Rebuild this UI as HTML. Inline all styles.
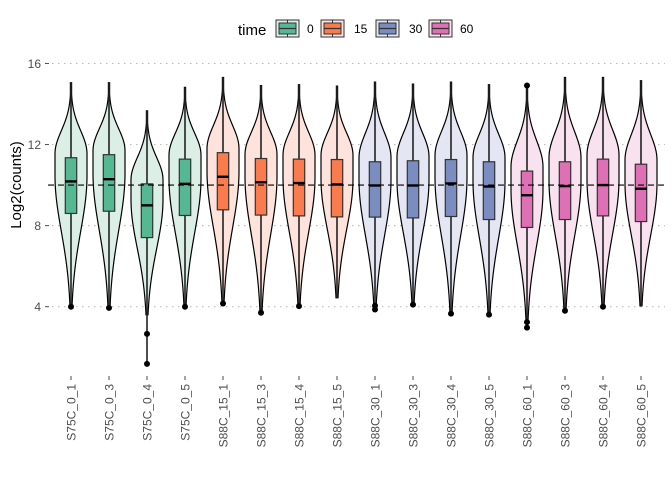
<!DOCTYPE html>
<html><head><meta charset="utf-8">
<style>
html,body{margin:0;padding:0;background:#fff;}
svg{display:block;font-family:"Liberation Sans",Arial,sans-serif;}
</style></head>
<body>
<svg id="chart" width="672" height="480" viewBox="0 0 672 480" xmlns="http://www.w3.org/2000/svg">
  <g id="grid"></g>
  <g id="yaxis"></g>
  <text x="0" y="0" transform="translate(21,185) rotate(-90)" text-anchor="middle" font-size="15" fill="#000">Log2(counts)</text>
  <g id="marks"></g>
  <line id="refline" stroke="#000" stroke-width="1.2" stroke-dasharray="6,4"></line>
  <g id="xaxis"></g>
  <g id="legend">
    <text x="238" y="35" font-size="15" fill="#000">time</text>
  </g>
</svg>
<script>
const samples = ["S75C_0_1","S75C_0_3","S75C_0_4","S75C_0_5","S88C_15_1","S88C_15_3","S88C_15_4","S88C_15_5","S88C_30_1","S88C_30_3","S88C_30_4","S88C_30_5","S88C_60_1","S88C_60_3","S88C_60_4","S88C_60_5"];
const groups = [0,0,0,0,1,1,1,1,2,2,2,2,3,3,3,3];
const topVals = [15.05,15.05,13.66,14.82,15.31,14.91,14.95,14.88,15.08,14.98,15.08,14.95,14.91,15.31,15.31,15.15];
const q3Vals = [11.35,11.5,10.06,11.28,11.6,11.31,11.28,11.26,11.15,11.2,11.26,11.15,10.69,11.15,11.28,11.03];
const medVals = [10.18,10.29,9.0,10.06,10.41,10.14,10.1,10.03,9.98,9.98,10.08,9.93,9.5,9.95,10.0,9.82];
const q1Vals = [8.6,8.71,7.41,8.5,8.78,8.52,8.48,8.43,8.42,8.38,8.45,8.3,7.91,8.3,8.48,8.2];
const lowVals = [4.0,3.94,1.18,4.0,4.16,3.7,4.03,4.44,3.86,4.1,3.66,3.61,2.97,3.8,4.0,4.04];
const violinLowVals = [4.0,3.94,3.6,4.0,4.16,3.7,4.03,4.44,3.86,4.1,3.66,3.61,3.3,3.8,4.0,4.04];
const outliers = [[4.0],[3.94],[2.66,1.18],[4.0],[4.16],[3.7],[4.03],[],[4.05,3.86],[4.1],[3.66],[3.61],[14.91,3.24,2.97],[3.8],[4.0],[]];
const yTicks = [4,8,12,16];
const refValue = 10.0;
const groupLabels = ["0","15","30","60"];
const boxColors = ["#55b892","#f97b4e","#7b8cc0","#e070b5"];
const violinColors = ["#dcefe7","#fde3dc","#e4e7f3","#f9e2ef"];

const NS = "http://www.w3.org/2000/svg";
function y(v){ return 306.7 - (v-4)*20.27; }
function x(i){ return 71 + 38*i; }
function mk(tag, attrs, parent){
  const e = document.createElementNS(NS, tag);
  for (const k in attrs) e.setAttribute(k, attrs[k]);
  parent.appendChild(e); return e;
}
const grid = document.getElementById('grid');
const yaxis = document.getElementById('yaxis');
yTicks.forEach(t=>{
  const gl = mk('line',{x1:52,x2:665,y1:y(t),y2:y(t),stroke:'#bdbdbd','stroke-width':1.2,'stroke-dasharray':'1.5,4.5'},grid);
  
  
  const tk = mk('line',{x1:45,x2:49,y1:y(t),y2:y(t),stroke:'#4d4d4d','stroke-width':1},yaxis);
  
  
  const tl = mk('text',{x:41,y:y(t)+4.5,'text-anchor':'end','font-size':12,fill:'#4d4d4d'},yaxis);
  
  
  tl.textContent = t;
});
const ref = document.getElementById('refline');
ref.setAttribute('x1',48); ref.setAttribute('x2',665);
ref.setAttribute('y1',y(refValue)); ref.setAttribute('y2',y(refValue));

const marks = document.getElementById('marks');
const xaxis = document.getElementById('xaxis');
const W = 16;
samples.forEach((s,i)=>{
  const cx = x(i), g = groups[i];
  const top = topVals[i], low = violinLowVals[i];
  const cUp = q3Vals[i]+0.2, cLow = medVals[i]+0.3;
  const sUp = (top-cUp)/3.1, sLow = (cLow-low)/2.35;
  function hw(v){
    if (v > cUp) return W*Math.exp(-0.5*Math.pow((v-cUp)/sUp,2));
    if (v < cLow) return W*Math.exp(-0.5*Math.pow((cLow-v)/sLow,2));
    return W;
  }
  const N = 80; let right=[], left=[];
  for (let k=0;k<=N;k++){
    const v = top - (top-low)*k/N;
    const w = Math.max(0.6, hw(v));
    right.push((cx+w).toFixed(2)+','+y(v).toFixed(2));
    left.unshift((cx-w).toFixed(2)+','+y(v).toFixed(2));
  }
  const vio = mk('polygon',{points:right.concat(left).join(' '),fill:violinColors[g],stroke:'#000','stroke-width':1.2},marks);
  
  
  const wl = mk('line',{x1:cx,x2:cx,y1:y(top),y2:y(lowVals[i]),stroke:'#222','stroke-width':1.6},marks);
  
  
  const bx = mk('rect',{x:cx-5.7,y:y(q3Vals[i]),width:11.4,height:y(q1Vals[i])-y(q3Vals[i]),fill:boxColors[g],stroke:'#333','stroke-width':1.2},marks);
  
  
  const md = mk('line',{x1:cx-5.7,x2:cx+5.7,y1:y(medVals[i]),y2:y(medVals[i]),stroke:'#000','stroke-width':2.4},marks);
  
  
  outliers[i].forEach(o=>{
    const c = mk('circle',{cx:cx,cy:y(o),r:3,fill:'#000'},marks);
    
    
  });
  const tk = mk('line',{x1:cx,x2:cx,y1:376,y2:380,stroke:'#4d4d4d','stroke-width':1},xaxis);
  
  
  const tl = mk('text',{x:0,y:0,transform:'translate('+(cx+4.5)+',384) rotate(-90)','text-anchor':'end','font-size':12,fill:'#4d4d4d'},xaxis);
  
  
  tl.textContent = s;
});

const legend = document.getElementById('legend');
const keyX = [276,321,376,429], labX = [307,354,409,460];
groupLabels.forEach((lab,j)=>{
  const kx = keyX[j];
  const kg = mk('g',{},legend);
  
  
  mk('rect',{x:kx,y:20,width:23,height:17,fill:violinColors[j],stroke:'#333','stroke-width':1},kg);
  mk('line',{x1:kx+11.5,x2:kx+11.5,y1:20,y2:37,stroke:'#333','stroke-width':1},kg);
  mk('rect',{x:kx+3,y:23,width:17,height:11,fill:boxColors[j],stroke:'#333','stroke-width':1},kg);
  mk('line',{x1:kx+3,x2:kx+20,y1:28.5,y2:28.5,stroke:'#333','stroke-width':1.2},kg);
  const t = mk('text',{x:labX[j],y:33,'font-size':12,fill:'#000'},kg);
  t.textContent = lab;
});
</script>
</body></html>
